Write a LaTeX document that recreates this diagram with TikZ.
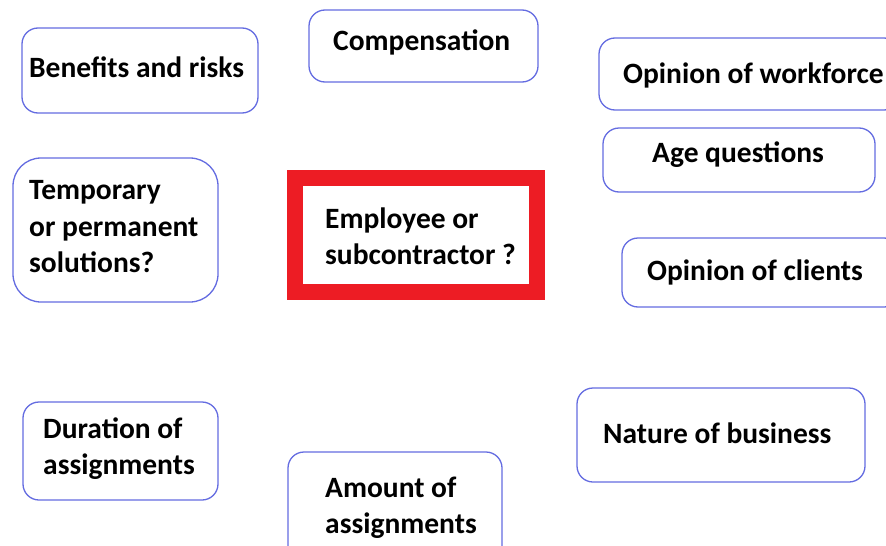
\documentclass[tikz,border=0pt]{standalone}
\usepackage{fontspec}
\setmainfont{Carlito}
\definecolor{boxblue}{RGB}{100,108,225}
\definecolor{boxred}{RGB}{237,28,36}
\tikzset{
  bubble/.style={draw=boxblue, line width=1.3pt, rounded corners=16pt, inner sep=0pt},
  redbox/.style={draw=boxred, line width=16pt, inner sep=0pt},
  lbl/.style={font=\bfseries\fontsize{29.5}{36.5}\selectfont, anchor=west, align=left, inner sep=0pt, text=black}
}
\begin{document}
\begin{tikzpicture}[x=1pt,y=-1pt]
\useasboundingbox (0,0) rectangle (886,546);
\fill[white] (0,0) rectangle (886,546);
\clip (0,0) rectangle (886,546);
% boxes
\node[bubble, minimum width=236pt, minimum height=85pt] (benefits) at (140,70.5) {};
\node[bubble, minimum width=229pt, minimum height=72pt] (comp) at (423.5,46) {};
\node[bubble, minimum width=301pt, minimum height=72pt] (workforce) at (749.5,74) {};
\node[bubble, minimum width=272pt, minimum height=64pt] (age) at (739,160) {};
\node[bubble, minimum width=278pt, minimum height=69pt] (clients) at (761,272.5) {};
\node[bubble, rounded corners=28pt, minimum width=205pt, minimum height=144pt] (temp) at (115.5,230) {};
\node[bubble, minimum width=195pt, minimum height=98pt] (duration) at (120.5,451) {};
\node[bubble, minimum width=214pt, minimum height=118pt] (amount) at (395,511) {};
\node[bubble, minimum width=288pt, minimum height=94pt] (nature) at (721,435) {};
\node[redbox, minimum width=242.5pt, minimum height=114pt] (center) at (415.75,235) {};
% labels
\node[lbl] (benefitsT) at (29,67) {Benefits and risks};
\node[lbl] (compT) at (333,42) {Compensation};
\node[lbl] (workforceT) at (623,75) {Opinion of workforce};
\node[lbl] (ageT) at (652,155) {Age questions};
\node[lbl] (clientsT) at (647,272) {Opinion of clients};
\node[lbl] (tempT) at (29,227) {Temporary\\or permanent\\solutions?};
\node[lbl] (centerT) at (325,236.5) {Employee or\\subcontractor ?};
\node[lbl] (durationT) at (43,448.5) {Duration of\\assignments};
\node[lbl] (amountT) at (325,507.5) {Amount of\\assignments};
\node[lbl] (natureT) at (603,433) {Nature of business};
\end{tikzpicture}
\end{document}
